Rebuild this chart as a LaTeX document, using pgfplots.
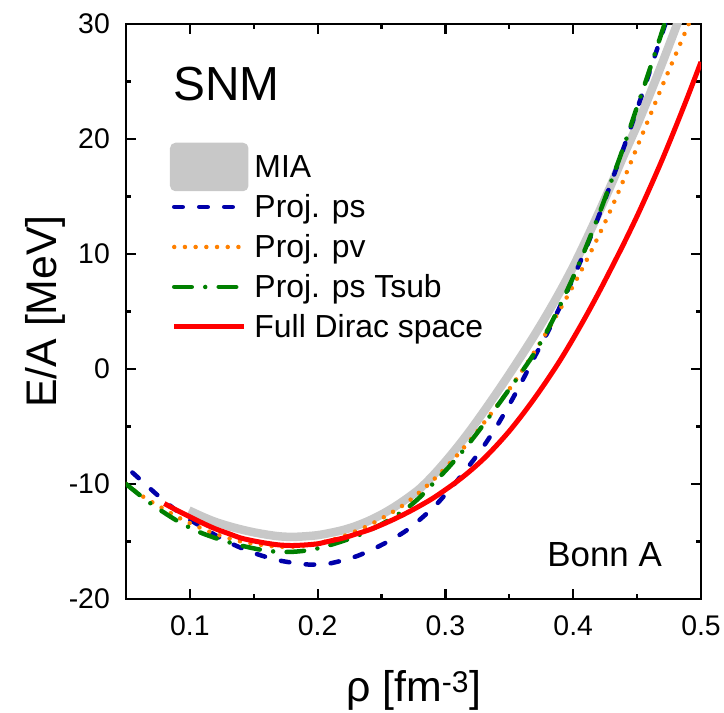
\documentclass[border=0pt]{standalone}
\usepackage{fontspec}
\setmainfont{Liberation Sans}
\usepackage{pgfplots}
\pgfplotsset{compat=1.18}
\definecolor{cblue}{RGB}{0,0,170}
\definecolor{corange}{RGB}{255,128,0}
\definecolor{cgreen}{RGB}{0,128,0}
\definecolor{cred}{RGB}{255,0,0}
\definecolor{cgray}{RGB}{200,200,200}
\begin{document}
\begin{tikzpicture}
\begin{axis}[
  name=ax,
  scale only axis, width=575bp, height=575bp,
  xmin=0.05, xmax=0.5, ymin=-20, ymax=30,
  xtick={0.1,0.2,0.3,0.4,0.5},
  minor xtick={0.05,0.15,0.25,0.35,0.45},
  ytick={-20,-10,0,10,20,30},
  minor ytick={-15,-5,5,15,25},
  tick align=inside,
  major tick length=10bp, minor tick length=5bp,
  axis line style={line width=2.2bp},
  tick style={line width=2.2bp, black},
  /pgf/number format/assume math mode=true,
  xticklabel style={font=\fontsize{28.5}{30}\selectfont, anchor=north, inner sep=0pt, yshift=-16bp,
    /pgf/number format/.cd, fixed, fixed zerofill, precision=1},
  yticklabel style={font=\fontsize{28.5}{30}\selectfont, anchor=east, inner sep=0pt, xshift=-16bp},
  xlabel={ρ [fm\textsuperscript{-3}]},
  ylabel={E/A [MeV]},
  xlabel style={at={(axis description cs:0.5,-0.1791)}, anchor=base, inner sep=0pt, font=\fontsize{43}{46}\selectfont},
  ylabel style={at={(axis description cs:-0.1409,0.5)}, anchor=center, inner sep=0pt, font=\fontsize{43}{46}\selectfont},
  legend image code/.code={\draw[#1] (0bp,0bp) -- (70bp,0bp);},
  legend cell align=left,
  legend style={at={(rel axis cs:0.0765,0.7861)}, anchor=north west, draw=none, fill=none,
    inner sep=0pt, outer sep=0pt, row sep=0pt, column sep=6bp,
    font=\fontsize{32}{32}\selectfont,
    nodes={inner sep=0pt, text height=31bp, text depth=9bp}},
]
\addplot[cgray, line width=8.5bp, smooth,
  legend image code/.code={\path (0bp,0bp) -- (70bp,0bp);\fill[cgray, rounded corners=2bp, overlay] (0bp,-20bp) rectangle (70bp,20bp);}]
coordinates {
(0.0992,-12.3) (0.11,-12.85) (0.12,-13.3) (0.13,-13.65) (0.14,-13.95) (0.15,-14.2) (0.16,-14.4)
(0.17,-14.55) (0.18,-14.6) (0.19,-14.55) (0.20,-14.45) (0.21,-14.25) (0.22,-14.0) (0.23,-13.65)
(0.24,-13.2) (0.25,-12.65) (0.26,-12.0) (0.27,-11.25) (0.28,-10.4) (0.29,-9.3) (0.30,-8.05)
(0.31,-6.7) (0.32,-5.25) (0.33,-3.7) (0.34,-2.1) (0.35,-0.45) (0.36,1.25) (0.37,3.0) (0.38,4.85)
(0.39,6.8) (0.40,8.9) (0.41,11.2) (0.42,13.6) (0.43,16.1) (0.44,18.7) (0.45,21.2) (0.46,23.9)
(0.47,26.7) (0.48,29.6) (0.485,31.1)
};
\addlegendentry{MIA}
\addplot[cblue, line width=4.5bp, line cap=round, dash pattern=on 8.5bp off 16.5bp, smooth]
coordinates {
(0.055,-9.0) (0.065,-10.0) (0.075,-11.0) (0.09,-12.35) (0.11,-13.8) (0.13,-15.05) (0.15,-16.0)
(0.17,-16.65) (0.19,-16.98) (0.20,-17.0) (0.21,-16.9) (0.23,-16.3) (0.25,-15.3) (0.27,-14.0)
(0.29,-12.1) (0.30,-10.9) (0.31,-9.6) (0.32,-8.2) (0.33,-6.7) (0.34,-5.0) (0.35,-3.1) (0.36,-1.05)
(0.37,1.1) (0.38,3.2) (0.39,5.5) (0.40,7.9) (0.41,10.5) (0.42,13.3) (0.43,16.3) (0.44,19.4)
(0.45,22.6) (0.46,25.9) (0.47,29.3) (0.475,31.0)
};
\addlegendentry{Proj. ps}
\addplot[corange, line width=4.5bp, line cap=round, dash pattern=on 0bp off 10.7bp, smooth]
coordinates {
(0.05,-10.0) (0.06,-10.85) (0.07,-11.55) (0.08,-12.2) (0.09,-12.85) (0.10,-13.4) (0.11,-13.9)
(0.12,-14.35) (0.13,-14.7) (0.14,-15.0) (0.15,-15.2) (0.16,-15.35) (0.17,-15.45) (0.18,-15.45)
(0.19,-15.35) (0.20,-15.15) (0.21,-14.9) (0.22,-14.55) (0.23,-14.1) (0.24,-13.6) (0.25,-13.0)
(0.26,-12.35) (0.27,-11.6) (0.28,-10.7) (0.29,-9.7) (0.30,-8.6) (0.31,-7.4) (0.32,-6.1) (0.33,-4.7)
(0.34,-3.25) (0.35,-1.75) (0.36,-0.15) (0.37,1.55) (0.38,3.35) (0.39,5.25) (0.40,7.25) (0.41,9.35)
(0.42,11.6) (0.43,14.0) (0.44,16.6) (0.45,19.3) (0.46,22.0) (0.47,24.7) (0.48,27.3) (0.49,29.9)
(0.495,31.2)
};
\addlegendentry{Proj. pv}
\addplot[cgreen, line width=4.5bp, line cap=round, dash pattern=on 17.5bp off 13.5bp on 0bp off 13.5bp, smooth]
coordinates {
(0.05,-10.0) (0.06,-10.9) (0.07,-11.75) (0.08,-12.5) (0.09,-13.2) (0.10,-13.8) (0.11,-14.3)
(0.12,-14.7) (0.13,-15.05) (0.14,-15.35) (0.15,-15.6) (0.16,-15.8) (0.17,-15.9) (0.18,-15.9)
(0.19,-15.8) (0.20,-15.6) (0.21,-15.3) (0.22,-14.95) (0.23,-14.55) (0.24,-14.05) (0.25,-13.5)
(0.26,-12.85) (0.27,-12.1) (0.28,-11.15) (0.29,-10.0) (0.30,-8.85) (0.31,-7.6) (0.32,-6.25)
(0.33,-4.8) (0.34,-3.3) (0.35,-1.75) (0.36,-0.2) (0.37,1.45) (0.38,3.4) (0.39,5.6) (0.40,8.0)
(0.41,10.6) (0.42,13.4) (0.43,16.4) (0.44,19.5) (0.45,22.8) (0.46,26.1) (0.47,29.5) (0.475,31.2)
};
\addlegendentry{Proj. ps Tsub}
\addplot[cred, line width=5bp, smooth]
coordinates {
(0.08,-11.7) (0.09,-12.3) (0.10,-12.85) (0.11,-13.4) (0.12,-13.9) (0.13,-14.3) (0.14,-14.7)
(0.15,-14.95) (0.16,-15.15) (0.17,-15.3) (0.18,-15.35) (0.19,-15.3) (0.20,-15.2) (0.21,-14.95)
(0.22,-14.7) (0.23,-14.35) (0.24,-14.0) (0.25,-13.55) (0.26,-13.05) (0.27,-12.5) (0.28,-11.9)
(0.29,-11.25) (0.30,-10.5) (0.31,-9.7) (0.32,-8.8) (0.33,-7.8) (0.34,-6.65) (0.35,-5.4)
(0.36,-4.0) (0.37,-2.5) (0.38,-0.9) (0.39,0.8) (0.40,2.65) (0.41,4.6) (0.42,6.65) (0.43,8.8)
(0.44,11.0) (0.45,13.3) (0.46,15.75) (0.47,18.3) (0.48,21.0) (0.49,23.8) (0.50,26.7)
};
\addlegendentry{Full Dirac space}
\node[anchor=base west, inner sep=0pt, font=\fontsize{48}{48}\selectfont] at (rel axis cs:0.0817,0.8678) {SNM};
\node[anchor=base east, inner sep=0pt, font=\fontsize{35}{35}\selectfont] at (rel axis cs:0.9322,0.0557) {Bonn A};
\end{axis}
\pgfresetboundingbox
\path[use as bounding box] ([xshift=-126bp,yshift=-114bp]ax.south west) rectangle ([xshift=23bp,yshift=24bp]ax.north east);
\end{tikzpicture}
\end{document}
